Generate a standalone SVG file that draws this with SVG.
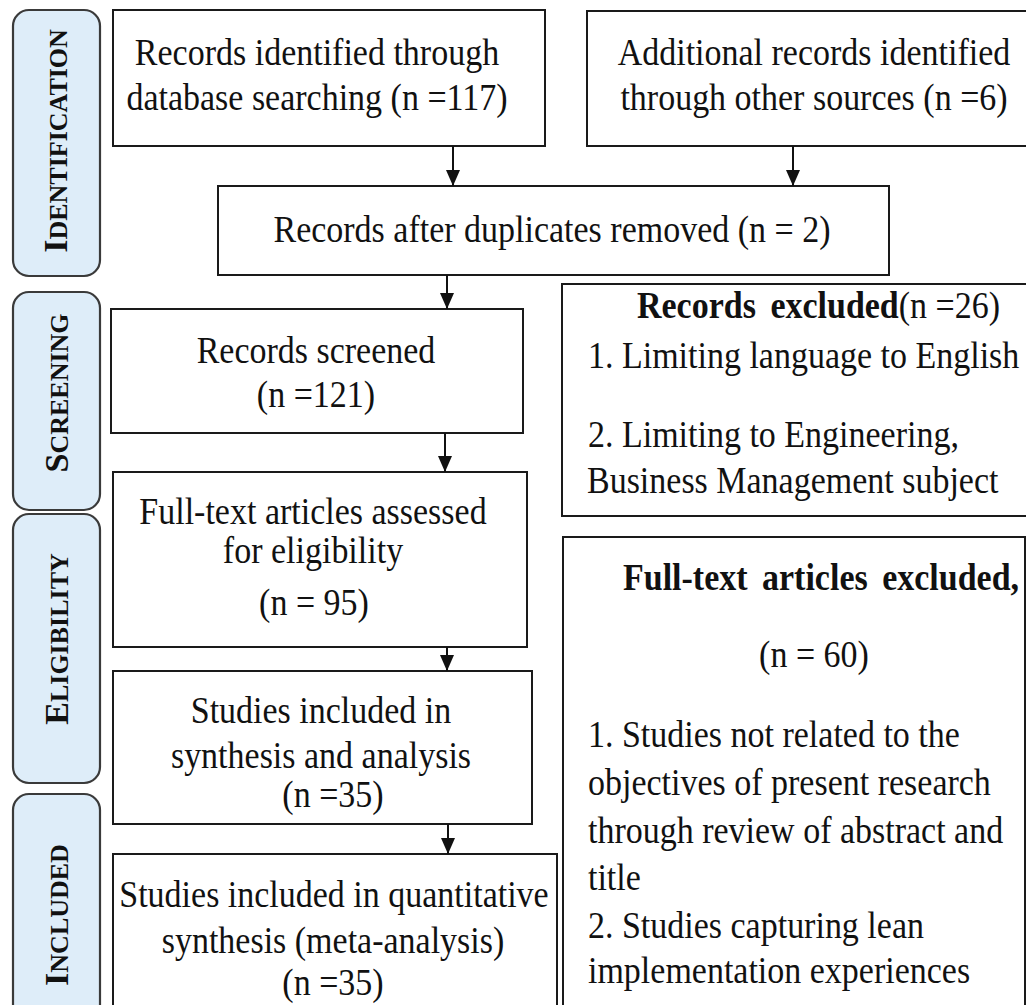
<svg xmlns="http://www.w3.org/2000/svg" width="1026" height="1005" viewBox="0 0 1026 1005">
<defs>
<marker id="ah" markerUnits="userSpaceOnUse" markerWidth="16" markerHeight="16" refX="16" refY="7" orient="auto">
<path d="M0,0 L16,7 L0,14 z" fill="#111"/>
</marker>
<filter id="sh" x="-10%" y="-50%" width="130%" height="250%">
<feDropShadow dx="1" dy="3" stdDeviation="0.6" flood-color="#888" flood-opacity="0.8"/>
</filter>
</defs>
<style>
.box{fill:#fff;stroke:#1a1a1a;stroke-width:2}
.pill{fill:#deedf9;stroke:#3a3a3a;stroke-width:2.2}
.t{font-family:"Liberation Serif","Times New Roman",serif;font-size:34px;fill:#111;transform-box:fill-box;transform-origin:50% 80%;transform:scaleY(1.12)}
.c{text-anchor:middle}
.b{font-weight:bold}
.side{font-family:"Liberation Serif","Times New Roman",serif;font-weight:bold;font-size:26px;fill:#111;text-anchor:middle}
.big{font-size:34px}
.cn{stroke:#111;stroke-width:2;fill:none}
</style>
<rect width="1026" height="1005" fill="#fff"/>

<g id="phase-identification">
<rect class="pill" x="13" y="10" width="87" height="266" rx="16"/>
<text class="side" transform="translate(67,141) rotate(-90)"><tspan class="big">I</tspan>DENTIFICATION</text>
</g>
<g id="phase-screening">
<rect class="pill" x="13" y="292" width="87" height="218" rx="16"/>
<text class="side" transform="translate(68,393) rotate(-90)"><tspan class="big">S</tspan>CREENING</text>
</g>
<g id="phase-eligibility">
<rect class="pill" x="13" y="514" width="87" height="269" rx="16"/>
<text class="side" transform="translate(68,639) rotate(-90)"><tspan class="big">E</tspan>LIGIBILITY</text>
</g>
<g id="phase-included">
<rect class="pill" x="13" y="794" width="87" height="230" rx="16"/>
<text class="side" transform="translate(68,915) rotate(-90)"><tspan class="big">I</tspan>NCLUDED</text>
</g>

<g id="db-records">
<rect class="box" x="113" y="10" width="432" height="136"/>
<text class="t c" x="317" y="65">Records identified through</text>
<text class="t c" x="317" y="110">database searching (n =117)</text>
</g>
<g id="other-records">
<rect class="box" x="587" y="11" width="445" height="135"/>
<text class="t c" x="814" y="65">Additional records identified</text>
<text class="t c" x="814" y="110">through other sources (n =6)</text>
</g>
<g id="dup-removed">
<rect class="box" x="218" y="186" width="671" height="89"/>
<text class="t c" x="552" y="242">Records after duplicates removed (n = 2)</text>
</g>
<g id="screened">
<rect class="box" x="111" y="309" width="412" height="124"/>
<text class="t c" x="316" y="363">Records screened</text>
<text class="t c" x="316" y="407">(n =121)</text>
</g>
<g id="records-excluded">
<rect class="box" x="562" y="284" width="470" height="232"/>
<text class="t" x="637" y="318"><tspan class="b" word-spacing="6">Records excluded</tspan>(n =26)</text>
<text class="t" x="588" y="368">1. Limiting language to English</text>
<text class="t" x="588" y="447">2. Limiting to Engineering,</text>
<text class="t" x="587" y="493">Business Management subject</text>
</g>
<g id="fulltext-assessed">
<rect class="box" x="113" y="472" width="414" height="175"/>
<text class="t c" x="313" y="524">Full-text articles assessed</text>
<text class="t c" x="313" y="563">for eligibility</text>
<text class="t c" x="314" y="615">(n = 95)</text>
</g>
<g id="fulltext-excluded">
<rect class="box" x="563" y="537" width="462" height="490"/>
<text class="t b" x="623" y="590" word-spacing="6">Full-text articles excluded,</text>
<text class="t c" x="814" y="667">(n = 60)</text>
<text class="t" x="588" y="747">1. Studies not related to the</text>
<text class="t" x="588" y="795">objectives of present research</text>
<text class="t" x="588" y="843">through review of abstract and</text>
<text class="t" x="588" y="890">title</text>
<text class="t" x="588" y="938">2. Studies capturing lean</text>
<text class="t" x="588" y="983">implementation experiences</text>
</g>
<g id="synthesis">
<rect class="box" x="113" y="671" width="419" height="153"/>
<text class="t c" x="321" y="723">Studies included in</text>
<text class="t c" x="321" y="768">synthesis and analysis</text>
<text class="t c" x="333" y="807">(n =35)</text>
</g>
<g id="quantitative">
<rect class="box" x="113" y="854" width="444" height="170"/>
<text class="t c" x="334" y="907">Studies included in quantitative</text>
<text class="t c" x="333" y="953">synthesis (meta-analysis)</text>
<text class="t c" x="333" y="995">(n =35)</text>
</g>

<g id="connectors">
<line class="cn" x1="453" y1="146" x2="453" y2="186" marker-end="url(#ah)"/>
<line class="cn" x1="793" y1="146" x2="793" y2="186" marker-end="url(#ah)"/>
<line class="cn" x1="447" y1="275" x2="447" y2="309" marker-end="url(#ah)"/>
<line class="cn" x1="445" y1="433" x2="445" y2="472" marker-end="url(#ah)"/>
<line class="cn" x1="447" y1="647" x2="447" y2="671" marker-end="url(#ah)"/>
<line class="cn" x1="448" y1="824" x2="448" y2="854" marker-end="url(#ah)"/>
<line class="cn" x1="517" y1="375" x2="562" y2="375" marker-end="url(#ah)" filter="url(#sh)"/>
<line class="cn" x1="527" y1="570" x2="563" y2="570" marker-end="url(#ah)" filter="url(#sh)"/>
</g>
</svg>
